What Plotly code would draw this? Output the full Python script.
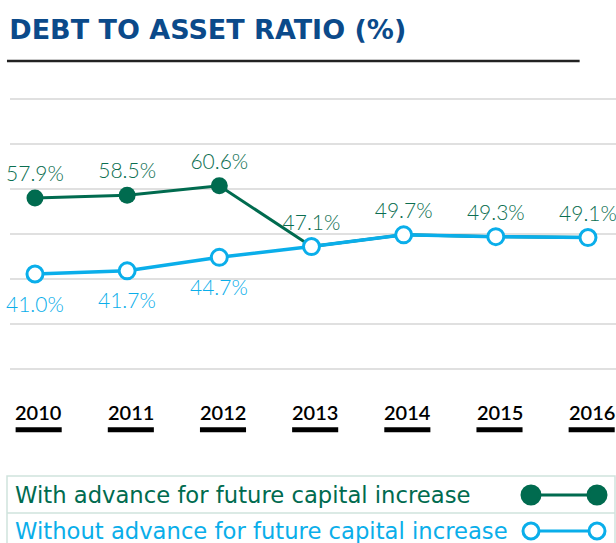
import plotly.graph_objects as go

years = [2010, 2011, 2012, 2013, 2014, 2015, 2016]
with_advance = [57.9, 58.5, 60.6, 47.1, 49.7, 49.3, 49.1]
without_advance = [41.0, 41.7, 44.7, 47.1, 49.7, 49.3, 49.1]
year_labels = ["2010", "2011", "2012", "2013", "2014", "2015", "2016"]
legend_names = ["With advance for future capital increase",
                "Without advance for future capital increase"]

GREEN = "#006b4f"
BLUE = "#0aaeea"
FONT = "Lato"
WIDE = "DejaVu Sans"

fig = go.Figure()

# green series: markers only where it differs from the blue one
shown = [a != b for a, b in zip(with_advance, without_advance)]
fig.add_trace(go.Scatter(
    x=years, y=with_advance, mode="lines+markers+text",
    line=dict(color=GREEN, width=3),
    marker=dict(color=GREEN, size=17, opacity=[1 if s else 0 for s in shown]),
    text=[f"{v:.1f}%" for v in with_advance], textposition="top center",
    textfont=dict(color="#0b6e50", size=21, family=FONT, weight=300),
    cliponaxis=False, showlegend=False))

fig.add_trace(go.Scatter(
    x=years, y=without_advance, mode="lines+markers",
    line=dict(color=BLUE, width=3.5),
    marker=dict(color="white", size=16, line=dict(color=BLUE, width=3)),
    cliponaxis=False, showlegend=False))

shapes = []
annotations = []

# blue value labels below the points (only where the series differ)
for yr, v, s in zip(years, without_advance, shown):
    if s:
        annotations.append(dict(x=yr, y=v, xref="x", yref="y", text=f"{v:.1f}%",
                                showarrow=False, yanchor="middle", yshift=-29,
                                font=dict(color=BLUE, size=21, family=FONT, weight=300)))

# year labels with black bars underneath
for yr, lab in zip(years, year_labels):
    annotations.append(dict(x=yr + 0.04, y=-0.14, xref="x", yref="paper", text=lab,
                            showarrow=False, yanchor="middle",
                            font=dict(size=20, color="black", family=FONT, weight=600)))
    shapes.append(dict(type="line", xref="x", yref="paper", x0=yr - 0.21, x1=yr + 0.29,
                       y0=-0.203, y1=-0.203, line=dict(color="black", width=5)))

# title rule
shapes.append(dict(type="line", xref="paper", yref="paper", x0=-0.005, x1=0.94,
                   y0=1.118, y1=1.118, line=dict(color="#222222", width=2.5)))

# legend box
px_to_x = lambda p: (p - 10) / 606
px_to_y = lambda p: (373 - p) / 279
BORDER = "#cfe3dd"
shapes.append(dict(type="rect", xref="paper", yref="paper", x0=px_to_x(7), x1=px_to_x(615),
                   y0=px_to_y(550), y1=px_to_y(476), line=dict(color=BORDER, width=1.5)))
shapes.append(dict(type="line", xref="paper", yref="paper", x0=px_to_x(7), x1=px_to_x(615),
                   y0=px_to_y(513), y1=px_to_y(513), line=dict(color=BORDER, width=1.5)))

rows = [(495, GREEN, GREEN), (531, BLUE, "white")]
for (py, col, fill), name in zip(rows, legend_names):
    annotations.append(dict(x=px_to_x(13), y=px_to_y(py), xref="paper", yref="paper",
                            xanchor="left", yanchor="middle", text=name, showarrow=False,
                            font=dict(size=22.7, color=col, family=WIDE)))
    shapes.append(dict(type="line", xref="paper", yref="paper", x0=px_to_x(531), x1=px_to_x(597),
                       y0=px_to_y(py), y1=px_to_y(py), line=dict(color=col, width=3)))
    for cx in (531, 597):
        r = 9 if fill == col else 8
        shapes.append(dict(type="circle", xref="paper", yref="paper",
                           xsizemode="pixel", ysizemode="pixel",
                           xanchor=px_to_x(cx), yanchor=px_to_y(py),
                           x0=-r, x1=r, y0=-r, y1=r,
                           fillcolor=fill, line=dict(color=col, width=3)))

fig.update_layout(
    width=616, height=543,
    margin=dict(l=10, r=0, t=94, b=170),
    paper_bgcolor="white", plot_bgcolor="white",
    title=dict(text="<b>DEBT TO ASSET RATIO (%)</b>", x=0.015, xanchor="left",
               y=1 - 30 / 543, yanchor="middle",
               font=dict(size=27, color="#0b4a8a", family=WIDE)),
    xaxis=dict(range=[2009.729, 2016.304], showgrid=False, showticklabels=False,
               zeroline=False, showline=False, fixedrange=True),
    yaxis=dict(range=[19, 81], dtick=10, tick0=0, showgrid=True, gridcolor="#e0e0e0",
               gridwidth=2, showticklabels=False, zeroline=False, showline=False),
    shapes=shapes, annotations=annotations,
)

fig.write_html("out.html", config={"displayModeBar": False},
               post_script="document.body.style.margin='0px';")
